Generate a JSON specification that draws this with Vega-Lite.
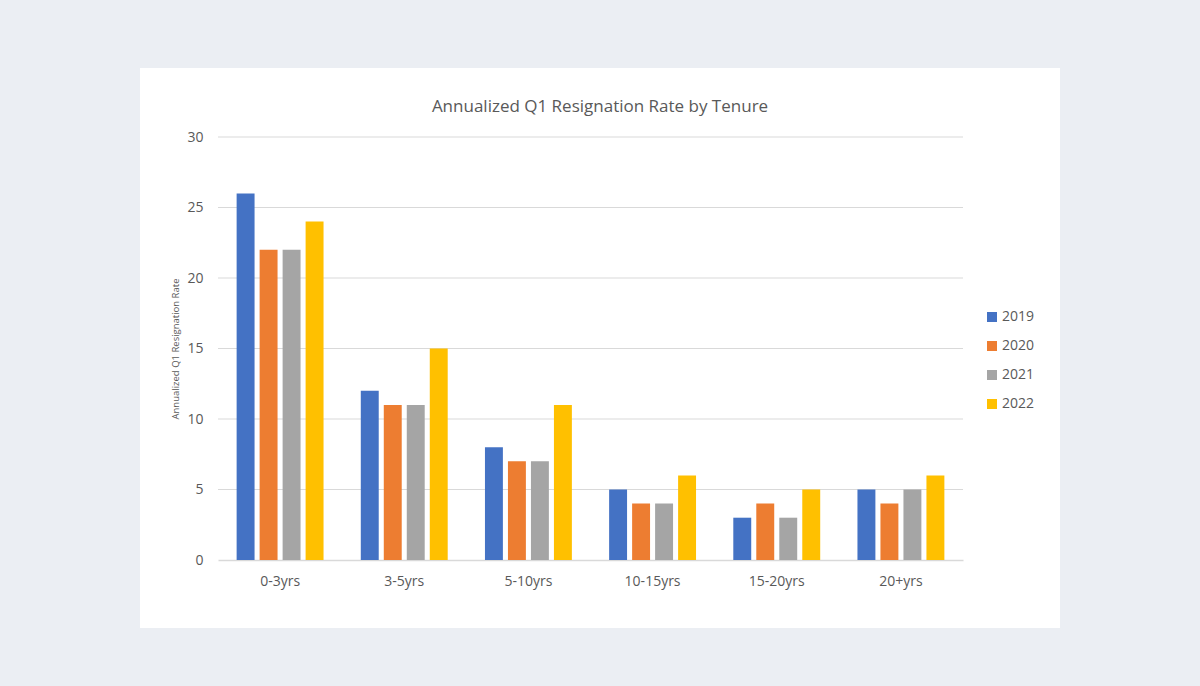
{
  "$schema": "https://vega.github.io/schema/vega-lite/v6.json",
  "autosize": {"type": "none"},
  "padding": {"left": 140, "top": 68, "right": 140, "bottom": 58},
  "width": 920,
  "height": 560,
  "background": "#ebeef3",
  "title": {
    "text": "Annualized Q1 Resignation Rate by Tenure",
    "anchor": "middle",
    "frame": "group",
    "orient": "top",
    "offset": -48,
    "fontSize": 17,
    "font": "Open Sans",
    "fontWeight": "normal",
    "color": "#595959"
  },
  "config": {
    "view": {"fill": "white", "stroke": null},
    "font": "Open Sans"
  },
  "datasets": {
    "bars": [
      {"tenure": "0-3yrs", "year": "2019", "rate": 26},
      {"tenure": "0-3yrs", "year": "2020", "rate": 22},
      {"tenure": "0-3yrs", "year": "2021", "rate": 22},
      {"tenure": "0-3yrs", "year": "2022", "rate": 24},
      {"tenure": "3-5yrs", "year": "2019", "rate": 12},
      {"tenure": "3-5yrs", "year": "2020", "rate": 11},
      {"tenure": "3-5yrs", "year": "2021", "rate": 11},
      {"tenure": "3-5yrs", "year": "2022", "rate": 15},
      {"tenure": "5-10yrs", "year": "2019", "rate": 8},
      {"tenure": "5-10yrs", "year": "2020", "rate": 7},
      {"tenure": "5-10yrs", "year": "2021", "rate": 7},
      {"tenure": "5-10yrs", "year": "2022", "rate": 11},
      {"tenure": "10-15yrs", "year": "2019", "rate": 5},
      {"tenure": "10-15yrs", "year": "2020", "rate": 4},
      {"tenure": "10-15yrs", "year": "2021", "rate": 4},
      {"tenure": "10-15yrs", "year": "2022", "rate": 6},
      {"tenure": "15-20yrs", "year": "2019", "rate": 3},
      {"tenure": "15-20yrs", "year": "2020", "rate": 4},
      {"tenure": "15-20yrs", "year": "2021", "rate": 3},
      {"tenure": "15-20yrs", "year": "2022", "rate": 5},
      {"tenure": "20+yrs", "year": "2019", "rate": 5},
      {"tenure": "20+yrs", "year": "2020", "rate": 4},
      {"tenure": "20+yrs", "year": "2021", "rate": 5},
      {"tenure": "20+yrs", "year": "2022", "rate": 6}
    ],
    "grid": [
      {"v": 5}, {"v": 10}, {"v": 15}, {"v": 20}, {"v": 25}, {"v": 30}
    ]
  },
  "layer": [
    {
      "data": {"name": "grid"},
      "mark": {"type": "rule", "color": "#d9d9d9", "strokeWidth": 1},
      "encoding": {
        "x": {"datum": 0, "type": "quantitative", "scale": {"domain": [0, 1], "range": [78, 823]}, "axis": null},
        "x2": {"datum": 1},
        "y": {"field": "v", "type": "quantitative"}
      }
    },
    {
      "data": {"name": "bars"},
      "mark": {"type": "bar"},
      "encoding": {
        "x": {
          "field": "tenure",
          "type": "nominal",
          "sort": ["0-3yrs", "3-5yrs", "5-10yrs", "10-15yrs", "15-20yrs", "20+yrs"],
          "scale": {"range": [78, 823], "paddingInner": 0.3, "paddingOuter": 0.15},
          "axis": {
            "title": null,
            "orient": "bottom",
            "offset": -68,
            "labelAngle": 0,
            "labelFontSize": 14,
            "labelColor": "#595959",
            "labelPadding": 14,
            "ticks": false,
            "domainColor": "#d9d9d9",
            "domainWidth": 1.5
          }
        },
        "xOffset": {
          "field": "year",
          "type": "nominal",
          "scale": {"paddingInner": 0.22, "paddingOuter": 0.0}
        },
        "y": {
          "field": "rate",
          "type": "quantitative",
          "scale": {"domain": [0, 30], "range": [492, 69], "nice": false, "zero": true},
          "axis": {
            "title": "Annualized Q1 Resignation Rate",
            "titleFontSize": 9.5,
            "titleFontWeight": "normal",
            "titleColor": "#595959",
            "titlePadding": 6,
            "orient": "left",
            "offset": -78,
            "values": [0, 5, 10, 15, 20, 25, 30],
            "grid": false,
            "domain": false,
            "ticks": false,
            "labelFontSize": 14,
            "labelColor": "#595959",
            "labelPadding": 15
          }
        },
        "color": {
          "field": "year",
          "type": "nominal",
          "scale": {"domain": ["2019", "2020", "2021", "2022"], "range": ["#4472c4", "#ed7d31", "#a5a5a5", "#ffc000"]},
          "legend": {
            "title": null,
            "orient": "none",
            "legendX": 845,
            "legendY": 242,
            "symbolType": "square",
            "symbolSize": 100,
            "symbolStrokeWidth": 0,
            "labelFontSize": 14,
            "labelColor": "#595959",
            "labelOffset": 3,
            "rowPadding": 15
          }
        }
      }
    }
  ],
  "resolve": {"scale": {"x": "independent"}}
}
